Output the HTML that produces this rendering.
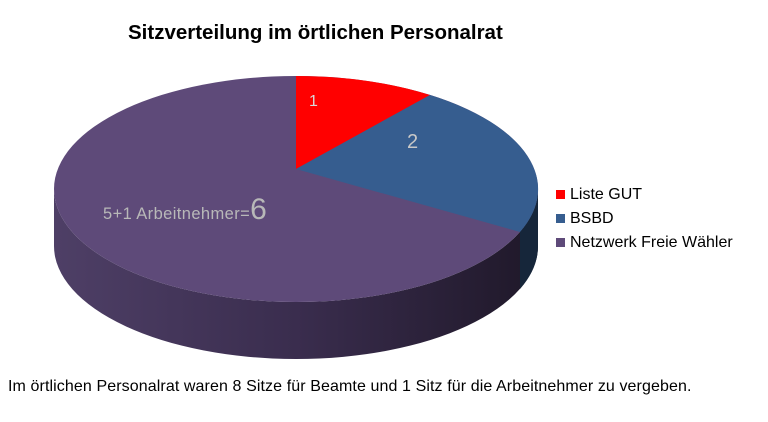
<!DOCTYPE html>
<html><head><meta charset="utf-8"><style>
html,body{margin:0;padding:0;background:#fff;}
body{width:768px;height:422px;position:relative;overflow:hidden;font-family:"Liberation Sans",sans-serif;}
.t{position:absolute;left:128px;top:21px;font-size:20.5px;font-weight:bold;color:#000;}
.f{position:absolute;left:8px;top:378px;font-size:16px;color:#000;letter-spacing:0.1px;}
.lg{position:absolute;left:556px;font-size:16px;color:#000;}
.lg span{display:inline-block;width:9px;height:9px;margin-right:5px;}
</style></head><body>
<div class="t">Sitzverteilung im örtlichen Personalrat</div>
<svg width="768" height="422" style="position:absolute;left:0;top:0">
<defs>
<linearGradient id="sg" x1="0" x2="1" y1="0" y2="0">
<stop offset="0" stop-color="#4e3f66"/>
<stop offset="0.5" stop-color="#3a2d4e"/>
<stop offset="1" stop-color="#1f1829"/>
</linearGradient>
</defs>
<path d="M54,189 A242,113 0 0 0 538,189 L538,246 A242,113 0 0 1 54,246 Z" fill="url(#sg)"/>
<path d="M520,232 A242,113 0 0 0 538,189 L538,246 A242,113 0 0 1 520,289 Z" fill="#16263a"/>
<ellipse cx="296" cy="189" rx="242" ry="113" fill="#5e4a79"/>
<path d="M296,169 L296,76 A242,113 0 0 1 430,95 Z" fill="#ff0000"/>
<path d="M296,169 L430,95 A242,113 0 0 1 520,232 Z" fill="#365d8f"/>
<text x="309" y="106" font-size="16" fill="#d8d8d8" font-family="Liberation Sans">1</text>
<text x="407" y="148" font-size="20" fill="#c8c8c8" font-family="Liberation Sans">2</text>
<text x="103" y="219" font-size="16.5" fill="#b8b8b8" font-family="Liberation Sans" letter-spacing="0.4">5+1 Arbeitnehmer=<tspan font-size="30">6</tspan></text>
</svg>
<div class="lg" style="top:186px"><span style="background:#ff0000"></span>Liste GUT</div>
<div class="lg" style="top:210px"><span style="background:#365d8f"></span>BSBD</div>
<div class="lg" style="top:234px"><span style="background:#5e4a79"></span>Netzwerk Freie Wähler</div>
<div class="f">Im örtlichen Personalrat waren 8 Sitze für Beamte und 1 Sitz für die Arbeitnehmer zu vergeben.</div>
</body></html>
